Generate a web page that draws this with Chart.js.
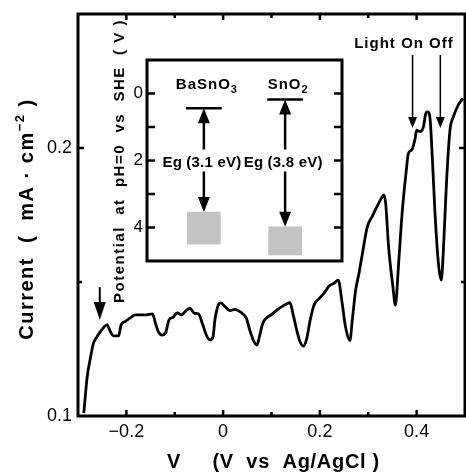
<!DOCTYPE html>
<html>
<head>
<meta charset="utf-8">
<script src="https://cdn.jsdelivr.net/npm/chart.js@4.4.0/dist/chart.umd.min.js"></script>
<style>
  html, body { margin: 0; padding: 0; background: #fff; }
  #wrap { position: relative; width: 466px; height: 473px; }
  #wrap canvas { position: absolute; left: 0; top: 0; }
</style>
</head>
<body>
<div id="wrap">
  <canvas id="mainChart" width="466" height="473"></canvas>
  <canvas id="insetChart" width="466" height="473"></canvas>
</div>
<script>
// photocurrent under chopped light, V vs Ag/AgCl -> mA/cm2
const voltage = [
  -0.288, -0.281, -0.274, -0.268, -0.261, -0.251, -0.240, -0.233, -0.227, -0.216,
  -0.211, -0.203, -0.192, -0.182, -0.161, -0.146, -0.140, -0.134, -0.126, -0.119,
  -0.112, -0.103, -0.095, -0.086, -0.079, -0.069, -0.059, -0.051, -0.042, -0.034,
  -0.027, -0.021, -0.017, -0.010, -0.005, 0.004, 0.014, 0.024, 0.031, 0.041,
  0.048, 0.055, 0.062, 0.070, 0.075, 0.082, 0.089, 0.099, 0.113, 0.123,
  0.131, 0.138, 0.145, 0.152, 0.159, 0.166, 0.173, 0.180, 0.188, 0.199,
  0.211, 0.219, 0.229, 0.238, 0.246, 0.253, 0.262, 0.267, 0.274, 0.281,
  0.288, 0.298, 0.308, 0.318, 0.327, 0.332, 0.336, 0.342, 0.351, 0.356,
  0.363, 0.370, 0.378, 0.383, 0.390, 0.397, 0.400, 0.407, 0.414, 0.419,
  0.423, 0.428, 0.433, 0.438, 0.445, 0.451, 0.455, 0.462, 0.469, 0.476,
  0.486, 0.496
];
const current = [
  0.1011, 0.1146, 0.1220, 0.1272, 0.1295, 0.1321, 0.1340, 0.1315, 0.1299, 0.1299,
  0.1340, 0.1352, 0.1366, 0.1377, 0.1377, 0.1381, 0.1347, 0.1315, 0.1302, 0.1310,
  0.1358, 0.1369, 0.1385, 0.1377, 0.1389, 0.1402, 0.1383, 0.1381, 0.1340, 0.1299,
  0.1284, 0.1295, 0.1358, 0.1414, 0.1422, 0.1408, 0.1393, 0.1398, 0.1393, 0.1381,
  0.1365, 0.1321, 0.1284, 0.1265, 0.1296, 0.1346, 0.1365, 0.1377, 0.1398, 0.1410,
  0.1418, 0.1423, 0.1377, 0.1321, 0.1277, 0.1261, 0.1290, 0.1358, 0.1414, 0.1439,
  0.1464, 0.1485, 0.1495, 0.1507, 0.1422, 0.1333, 0.1281, 0.1358, 0.1470, 0.1534,
  0.1607, 0.1706, 0.1744, 0.1781, 0.1812, 0.1825, 0.1794, 0.1632, 0.1482, 0.1414,
  0.1575, 0.1756, 0.1906, 0.1980, 0.1993, 0.2036, 0.2067, 0.2061, 0.2079, 0.2129,
  0.2135, 0.2104, 0.1943, 0.1756, 0.1570, 0.1507, 0.1607, 0.1881, 0.2067, 0.2117,
  0.2160, 0.2185
];
const xLabelled = [-0.2, 0, 0.2, 0.4];
const yLabelled = [0.1, 0.2];

// band diagram (potential at pH=0 vs SHE)
const materials = ['BaSnO', 'SnO'];
const subscripts = ['3', '2'];
const cbEdge = [0.44, 0.18];
const bandGap = [3.1, 3.8];
const vbBottom = [4.5, 4.82];
const insetLabelled = [0, 2, 4];

const FONT = '"Liberation Sans", Arial, sans-serif';
const near = (a, b) => Math.abs(a - b) < 1e-6;
const fmt = v => {
  const r = Math.round(v * 100) / 100;
  return r < 0 ? '\u2212' + Math.abs(r) : String(r);
};

function drawRuns(ctx, runs, x, y, rotate, spacing) {
  ctx.save();
  ctx.translate(x, y);
  if (rotate) ctx.rotate(-Math.PI / 2);
  ctx.letterSpacing = spacing + 'px';
  ctx.textAlign = 'left';
  ctx.textBaseline = 'alphabetic';
  ctx.fillStyle = '#000';
  let total = 0;
  runs.forEach(r => { ctx.font = r.font; r.w = ctx.measureText(r.text).width; total += r.w; });
  let cx = -total / 2;
  runs.forEach(r => { ctx.font = r.font; ctx.fillText(r.text, cx, r.dy || 0); cx += r.w; });
  ctx.restore();
}

function arrow(ctx, x, yFrom, yTo, headLen, headW, lw) {
  const dir = yTo > yFrom ? 1 : -1;
  ctx.lineWidth = lw;
  ctx.beginPath();
  ctx.moveTo(x, yFrom);
  ctx.lineTo(x, yTo - dir * headLen * 0.8);
  ctx.stroke();
  ctx.beginPath();
  ctx.moveTo(x, yTo);
  ctx.lineTo(x - headW / 2, yTo - dir * headLen);
  ctx.lineTo(x + headW / 2, yTo - dir * headLen);
  ctx.closePath();
  ctx.fill();
}

// box with inward ticks on all four sides
function boxAndTicks(chart, xTicks, yTicks, major, minor) {
  const { ctx, chartArea: a, scales } = chart;
  ctx.save();
  ctx.strokeStyle = '#000';
  ctx.lineWidth = 3;
  ctx.strokeRect(a.left, a.top, a.right - a.left, a.bottom - a.top);
  ctx.lineWidth = 2.5;
  const seg = (x1, y1, x2, y2) => { ctx.beginPath(); ctx.moveTo(x1, y1); ctx.lineTo(x2, y2); ctx.stroke(); };
  if (xTicks) {
    scales.x.ticks.forEach(t => {
      const px = scales.x.getPixelForValue(t.value);
      if (px < a.left + 3 || px > a.right - 3) return;
      const len = t.label ? major : minor;
      seg(px, a.bottom, px, a.bottom - len);
      seg(px, a.top, px, a.top + len);
    });
  }
  if (yTicks) {
    scales.y.ticks.forEach(t => {
      const py = scales.y.getPixelForValue(t.value);
      if (py < a.top + 3 || py > a.bottom - 3) return;
      const len = t.label ? major : minor;
      seg(a.left, py, a.left + len, py);
      seg(a.right, py, a.right - len, py);
    });
  }
  ctx.restore();
}

const mainDecor = {
  id: 'mainDecor',
  afterDraw(chart) {
    const { ctx, chartArea: a, scales: { x, y } } = chart;
    boxAndTicks(chart, true, true, 6, 4);

    // axis titles
    const big = 'bold 20px ' + FONT;
    drawRuns(ctx, [{ text: 'V     (V  vs  Ag/AgCl )', font: big }], (a.left + a.right) / 2 + 2, 468, false, 0.7);
    drawRuns(ctx, [
      { text: 'Current  (  mA \u00b7 cm', font: big },
      { text: '\u22122', font: 'bold 13px ' + FONT, dy: -9 },
      { text: ' )', font: big }
    ], 33, 219, true, 1.5);

    // markers
    ctx.save();
    ctx.fillStyle = '#000';
    ctx.strokeStyle = '#000';
    arrow(ctx, x.getPixelForValue(-0.255), y.getPixelForValue(0.1481), y.getPixelForValue(0.1358), 18, 12, 2);
    arrow(ctx, x.getPixelForValue(0.3916), y.getPixelForValue(0.2347), y.getPixelForValue(0.2075), 11, 9, 1.5);
    arrow(ctx, x.getPixelForValue(0.449), y.getPixelForValue(0.2347), y.getPixelForValue(0.2075), 11, 9, 1.5);
    ctx.restore();

    const small = 'bold 15px ' + FONT;
    const base = y.getPixelForValue(0.2373);
    drawRuns(ctx, [{ text: 'Light', font: small }], 375, base, false, 1);
    drawRuns(ctx, [{ text: 'On', font: small }], x.getPixelForValue(0.3916), base, false, 1);
    drawRuns(ctx, [{ text: 'Off', font: small }], x.getPixelForValue(0.449) + 1, base, false, 1);
  }
};

new Chart(document.getElementById('mainChart'), {
  type: 'scatter',
  data: {
    datasets: [{
      data: voltage.map((v, i) => ({ x: v, y: current[i] })),
      showLine: true,
      borderColor: '#000',
      borderWidth: 2.8,
      pointRadius: 0,
      cubicInterpolationMode: 'monotone',
      fill: false
    }]
  },
  options: {
    responsive: false,
    animation: false,
    layout: { padding: { left: 0, right: 1, top: 14, bottom: 0 } },
    plugins: { legend: { display: false }, tooltip: { enabled: false } },
    scales: {
      x: {
        type: 'linear',
        min: -0.3,
        max: 0.5,
        afterFit: s => { s.height = 57; s.paddingLeft = 0; s.paddingRight = 0; },
        grid: { display: false, drawTicks: false },
        border: { display: false },
        ticks: {
          stepSize: 0.1,
          padding: 5,
          color: '#000',
          font: { family: FONT, size: 18 },
          maxRotation: 0,
          autoSkip: false,
          callback: v => xLabelled.some(l => near(l, v)) ? fmt(v) : ''
        }
      },
      y: {
        min: 0.1,
        max: 0.25,
        afterFit: s => { s.width = 78; s.paddingTop = 0; s.paddingBottom = 0; },
        grid: { display: false, drawTicks: false },
        border: { display: false },
        ticks: {
          stepSize: 0.05,
          padding: 6,
          color: '#000',
          font: { family: FONT, size: 18 },
          autoSkip: false,
          callback: v => yLabelled.some(l => near(l, v)) ? fmt(v) : ''
        }
      }
    }
  },
  plugins: [mainDecor]
});

// inset: band edges of the two oxides
const matPos = [1, 2];
const halfLine = 0.22;

const insetDecor = {
  id: 'insetDecor',
  afterDraw(chart) {
    const { ctx, scales: { x, y } } = chart;
    boxAndTicks(chart, false, true, 8, 8);

    ctx.save();
    ctx.fillStyle = '#000';
    ctx.strokeStyle = '#000';
    const lblFont = 'bold 15px ' + FONT;
    const labelY = y.getPixelForValue(2.0);
    materials.forEach((m, i) => {
      const px = x.getPixelForValue(matPos[i]);
      const top = y.getPixelForValue(cbEdge[i]);
      const bot = y.getPixelForValue(cbEdge[i] + bandGap[i]);
      arrow(ctx, px, labelY - 11, top, 15, 12, 2.5);
      arrow(ctx, px, labelY + 11, bot, 15, 12, 2.5);
      drawRuns(ctx, [{ text: 'Eg (' + bandGap[i].toFixed(1) + ' eV)', font: lblFont }], px - 2, labelY + 6, false, 0.2);
      drawRuns(ctx, [
        { text: m, font: lblFont },
        { text: subscripts[i], font: 'bold 11px ' + FONT, dy: 4 }
      ], px + 3, y.getPixelForValue(-0.13), false, 1);
    });
    ctx.restore();

    drawRuns(ctx, [{ text: 'Potential  at  pH=0  vs  SHE  ( V )', font: 'bold 15px ' + FONT }], 124, 161, true, 1.5);
  }
};

new Chart(document.getElementById('insetChart'), {
  type: 'bar',
  data: {
    datasets: [
      {
        type: 'bar',
        data: materials.map((m, i) => ({ x: matPos[i], y: [cbEdge[i] + bandGap[i], vbBottom[i]] })),
        backgroundColor: '#c3c3c3',
        borderWidth: 0,
        barThickness: 33
      },
      ...materials.map((m, i) => ({
        type: 'line',
        data: [
          { x: matPos[i] - halfLine, y: cbEdge[i] },
          { x: matPos[i] + halfLine, y: cbEdge[i] }
        ],
        borderColor: '#000',
        borderWidth: 2.5,
        pointRadius: 0,
        fill: false
      }))
    ]
  },
  options: {
    responsive: false,
    animation: false,
    layout: { padding: { left: 100, right: 124, top: 60, bottom: 212 } },
    plugins: { legend: { display: false }, tooltip: { enabled: false } },
    scales: {
      x: { type: 'linear', min: 0.3, max: 2.7, offset: false, display: false },
      y: {
        min: -1,
        max: 5,
        reverse: true,
        afterFit: s => { s.width = 47; s.paddingTop = 0; s.paddingBottom = 0; },
        grid: { display: false, drawTicks: false },
        border: { display: false },
        ticks: {
          stepSize: 1,
          padding: 4,
          color: '#000',
          font: { family: FONT, size: 17 },
          autoSkip: false,
          callback: v => insetLabelled.includes(v) ? String(v) : ''
        }
      }
    }
  },
  plugins: [insetDecor]
});
</script>
</body>
</html>
